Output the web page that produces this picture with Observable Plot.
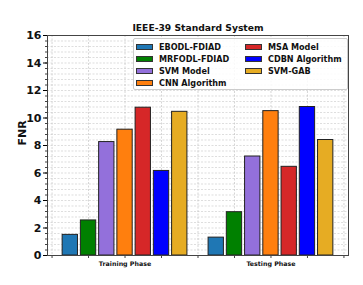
<!DOCTYPE html>
<html><head><meta charset="utf-8">
<script src="https://cdn.jsdelivr.net/npm/d3@7"></script>
<script src="https://cdn.jsdelivr.net/npm/@observablehq/plot@0.6"></script>
<style>
body{margin:0;background:#fff;font-family:"DejaVu Sans",sans-serif;}
#wrap{position:relative;width:363px;height:285px;}
#legend{position:absolute;left:133px;top:38px;width:215px;height:52px;background:rgba(255,255,255,0.85);border:1px solid #ccc;border-radius:2px;box-sizing:border-box;font-family:"DejaVu Sans Condensed","DejaVu Sans",sans-serif;font-size:9px;font-weight:bold;color:#111;}
.item{position:absolute;display:flex;align-items:center;white-space:nowrap;height:12px;}
.sw{width:17px;height:6px;border:1px solid #333;margin-right:6px;box-sizing:border-box;}
</style>
</head><body>
<div id="wrap"><div id="chart"></div><div id="legend"></div></div>
<script>
const phases = ["Training Phase", "Testing Phase"];
const methods = ["EBODL-FDIAD","MRFODL-FDIAD","SVM Model","CNN Algorithm","MSA Model","CDBN Algorithm","SVM-GAB"];
const colors = ["#1f77b4","#008000","#9370db","#ff7f0e","#d62728","#0000ff","#e6ac23"];
const training = [1.5, 2.55, 8.25, 9.15, 10.75, 6.15, 10.45];
const testing = [1.3, 3.15, 7.2, 10.5, 6.45, 10.8, 8.4];
const yTicks = [0,2,4,6,8,10,12,14,16];

const data = [];
[training, testing].forEach((vals, g) => vals.forEach((v, i) => data.push({g, i, method: methods[i], value: v})));
const step = 0.125, bw = 0.105;
const minorY = d3.range(0, 16.01, 0.4);
const xGrid = d3.range(-0.5, 1.51, 0.25);

const chart = Plot.plot({
  width: 363, height: 285,
  marginLeft: 47, marginRight: 15, marginTop: 35, marginBottom: 30,
  x: {type: "linear", domain: [-0.53125, 1.53125], axis: null, label: null},
  y: {type: "linear", domain: [0, 16], axis: null, label: null},
  color: {domain: methods, range: colors},
  style: {fontFamily: "DejaVu Sans, sans-serif", background: "#fff"},
  marks: [
    Plot.ruleY(minorY, {stroke: "#c8c8c8", strokeWidth: 0.6, strokeDasharray: "2,1.5"}),
    Plot.ruleX(xGrid, {stroke: "#bbbbbb", strokeWidth: 0.6, strokeDasharray: "2,1.5"}),
    Plot.rect(data, {
      x1: d => d.g + (d.i - 3) * step - bw / 2,
      x2: d => d.g + (d.i - 3) * step + bw / 2,
      y1: () => 0, y2: "value", fill: "method", stroke: "#222", strokeWidth: 1
    }),
    Plot.frame({stroke: "#444", strokeWidth: 1}),
    Plot.axisY(minorY, {tickSize: 2, tickFormat: () => "", stroke: "#444", label: null}),
    Plot.axisY(yTicks, {tickSize: 4, tickFormat: d => d, fontSize: 11, fontWeight: "bold", fill: "#111", tickPadding: 2, label: null}),
    Plot.axisX(xGrid, {tickSize: 3, tickFormat: () => "", stroke: "#444", label: null}),
    Plot.text(phases, {x: (d, i) => i, frameAnchor: "bottom", dy: 10, fontSize: 6.3, fontWeight: "bold", fill: "#111", text: d => d}),
    Plot.text(["IEEE-39 Standard System"], {frameAnchor: "top", dy: -11, fontSize: 9.2, fontWeight: "bold", fill: "#111"}),
    Plot.text(["FNR"], {frameAnchor: "left", dx: -25, rotate: -90, fontSize: 11, fontWeight: "bold", fill: "#111"})
  ]
});
document.getElementById("chart").appendChild(chart);

const leg = document.getElementById("legend");
methods.forEach((m, i) => {
  const col = i < 4 ? 0 : 1, row = i < 4 ? i : i - 4;
  const el = document.createElement("div");
  el.className = "item";
  el.style.left = (col ? 111 : 2) + "px";
  el.style.top = (1.5 + row * 12) + "px";
  el.innerHTML = `<span class="sw" style="background:${colors[i]}"></span>${m}`;
  leg.appendChild(el);
});
</script>
</body></html>
